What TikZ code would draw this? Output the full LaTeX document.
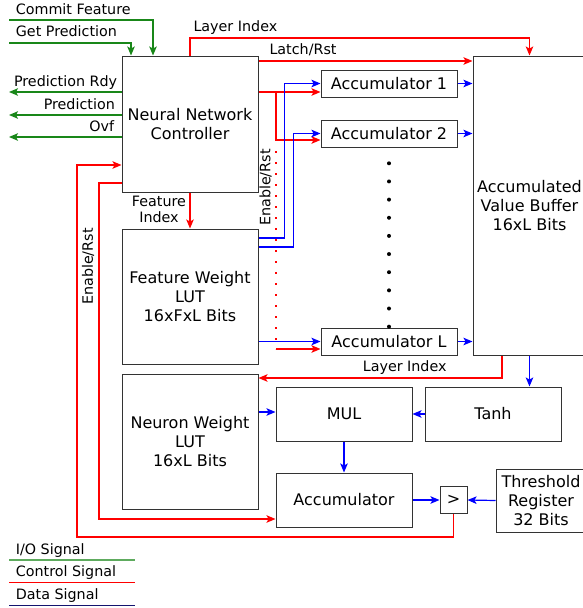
\documentclass[tikz,border=0pt]{standalone}
\usepackage{fontspec}
\setmainfont{DejaVu Sans}
\usetikzlibrary{arrows.meta}
\definecolor{iogreen}{RGB}{25,135,25}
\definecolor{ctrlred}{RGB}{255,0,0}
\definecolor{datablue}{RGB}{0,0,255}
\definecolor{datanavy}{RGB}{20,20,110}

\begin{document}
\begin{tikzpicture}[x=1pt,y=-1pt,
  blk/.style={draw=black!80,line width=1pt,align=center,inner sep=2pt,font=\fontsize{16}{19}\selectfont},
  lbl/.style={inner sep=0pt,align=center,font=\fontsize{14.3}{16}\selectfont},
  sigtip/.style={-{Stealth[length=9pt,width=7.5pt,inset=2pt]}},
  iosig/.style={draw=iogreen,line width=1.2pt,sigtip},
  ctrlsig/.style={draw=ctrlred,line width=1.2pt,sigtip},
  datasig/.style={draw=datablue,line width=1.2pt,sigtip}]
  \useasboundingbox (0,0) rectangle (582,608);
  % blocks
  \node[blk,minimum width=136pt,minimum height=136pt] (nnc) at (190,124) {Neural Network\\Controller};
  \node[blk,minimum width=136pt,minimum height=135pt] (fwl) at (190,296.5) {Feature Weight\\LUT\\16xFxL Bits};
  \node[blk,minimum width=136pt,minimum height=135pt] (nwl) at (190,441.5) {Neuron Weight\\LUT\\16xL Bits};
  \node[blk,minimum width=136pt,minimum height=27pt] (acc1) at (389,83.5) {Accumulator 1};
  \node[blk,minimum width=136pt,minimum height=27pt] (acc2) at (389,133.5) {Accumulator 2};
  \node[blk,minimum width=136pt,minimum height=27pt] (accL) at (389,341.5) {Accumulator L};
  \node[blk,minimum width=113pt,minimum height=299pt] (avb) at (529.5,205.5) {Accumulated\\Value Buffer\\16xL Bits};
  \node[blk,minimum width=136pt,minimum height=54pt] (mul) at (344,414) {MUL};
  \node[blk,minimum width=136pt,minimum height=54pt] (tanh) at (493,414) {Tanh};
  \node[blk,minimum width=136pt,minimum height=54pt] (acc) at (344,500) {Accumulator};
  \node[blk,minimum width=27pt,minimum height=27pt] (cmp) at (453.5,500) {>};
  \node[blk,minimum width=90pt,minimum height=63pt] (thr) at (541,500.5) {Threshold\\Register\\32 Bits};
  % accumulators in between
  \foreach \k in {0,...,9}
    \fill (389,163.3+18.15*\k) circle (2pt);
  % I/O signals
  \coordinate (commitin) at (9,20);
  \coordinate (getin) at (9,43);
  \coordinate (rdyout) at (9,92);
  \coordinate (predout) at (9,115);
  \coordinate (ovfout) at (9,137);
  \draw[iosig] (commitin) -| ([xshift=-37pt]nnc.north);
  \draw[iosig] (getin) -| ([xshift=-59pt]nnc.north);
  \draw[iosig] (nnc.west |- rdyout) -- (rdyout);
  \draw[iosig] (nnc.west |- predout) -- (predout);
  \draw[iosig] (nnc.west |- ovfout) -- (ovfout);
  \node[lbl,anchor=base west] (commitlbl) at (15.7,14.3) {Commit Feature};
  \node[lbl,anchor=base west] (getlbl) at (15.7,36.7) {Get Prediction};
  \node[lbl,anchor=base east] (rdylbl) at (117.3,86) {Prediction Rdy};
  \node[lbl,anchor=base east] (predlbl) at (115,109) {Prediction};
  \node[lbl,anchor=base east] (ovflbl) at (114.3,131) {Ovf};
  % control signals
  \draw[ctrlsig] (nnc.north) -- (nnc.north |- 0,38) -| (avb.north);
  \draw[ctrlsig] (nnc.east |- 0,61) -- (avb.west |- 0,61);
  \coordinate (enbr) at (276,92);
  \draw[ctrlsig] (nnc.east |- enbr) -- (acc1.west |- enbr);
  \draw[ctrlsig] (enbr) |- (acc2.west |- 0,140);
  \draw[ctrlred,line width=2pt,dash pattern=on 2pt off 9pt] (276,151) -- (276,349);
  \draw[ctrlsig] (276,349) -- (accL.west |- 0,349);
  \draw[ctrlsig] (avb.south -| 502,0) |- (nwl.east |- 0,378);
  \draw[ctrlsig] (cmp.south) |- (77,537) -- (77,165) -- (nnc.west |- 0,165);
  \draw[ctrlsig] (nnc.west |- 0,183) -| (99,519) -- (acc.west |- 0,519);
  \draw[ctrlsig] (nnc.south) -- (fwl.north);
  \node[lbl,anchor=base west] (layerlblA) at (193.3,31.7) {Layer Index};
  \node[lbl,anchor=base west] (latchlbl) at (269.3,54) {Latch/Rst};
  \node[lbl] (featlbl) at (159,209.6) {Feature\\Index};
  \node[lbl,rotate=90] (enlblA) at (265.5,187.5) {Enable/Rst};
  \node[lbl,rotate=90] (enlblB) at (88,266.5) {Enable/Rst};
  \node[lbl,anchor=base] (layerlblB) at (404.7,371.7) {Layer Index};
  % data signals
  \draw[datasig] (fwl.east |- 0,238) -| ([xshift=-36pt]acc1.west) -- (acc1.west);
  \draw[datasig] (fwl.east |- 0,247) -| ([xshift=-27pt]acc2.west) -- (acc2.west);
  \draw[datasig] (fwl.east |- accL.west) -- (accL.west);
  \draw[datasig] (acc1.east) -- (avb.west |- acc1.east);
  \draw[datasig] (acc2.east) -- (avb.west |- acc2.east);
  \draw[datasig] (accL.east) -- (avb.west |- accL.east);
  \draw[datasig] (avb.south) -- (avb.south |- tanh.north);
  \draw[datasig] (tanh.west) -- (mul.east);
  \draw[datasig] (nwl.east |- 0,412) -- (mul.west |- 0,412);
  \draw[datasig] (mul.south) -- (acc.north);
  \draw[datasig] (acc.east) -- (cmp.west);
  \draw[datasig] (thr.west) -- (cmp.east);
  % legend
  \node[lbl,anchor=base west] (lgio) at (15.7,554) {I/O Signal};
  \node[lbl,anchor=base west] (lgctrl) at (15.7,576.7) {Control Signal};
  \node[lbl,anchor=base west] (lgdata) at (15.7,599.3) {Data Signal};
  \draw[iogreen!70,line width=1.2pt] (9,560) -- (135,560);
  \draw[ctrlred,line width=1.2pt] (9,582.3) -- (135,582.3);
  \draw[datanavy,line width=1.2pt] (9,605.3) -- (135,605.3);
\end{tikzpicture}
\end{document}
